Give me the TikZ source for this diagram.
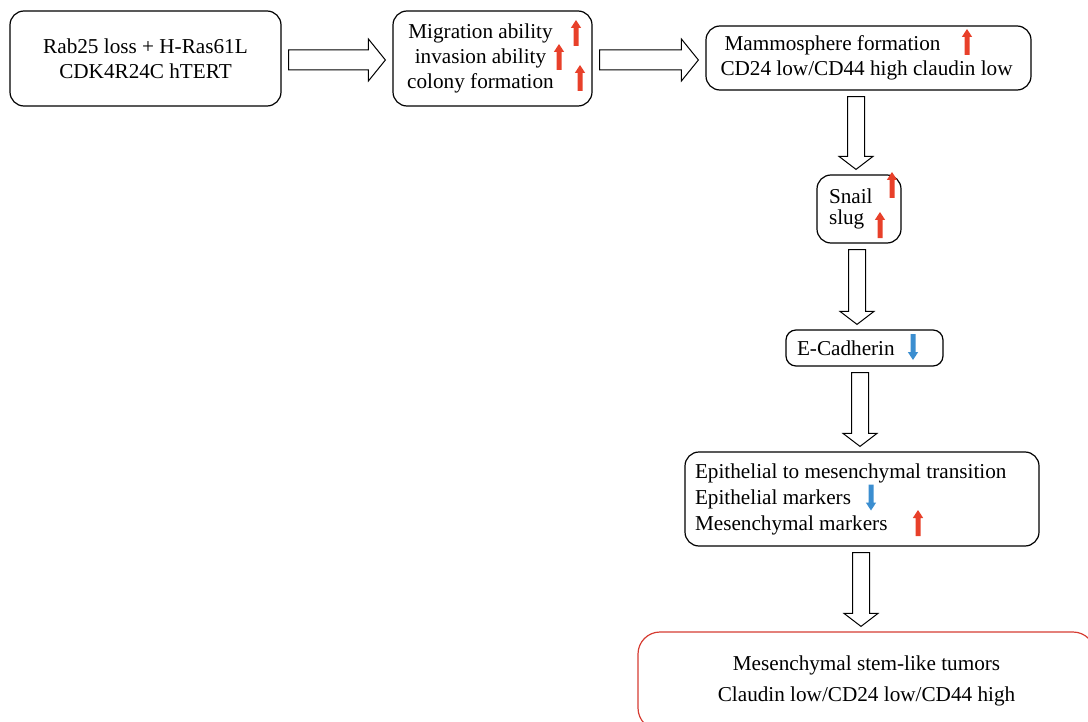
\documentclass[tikz,border=0pt]{standalone}
\usepackage{fontspec}
\setmainfont{Liberation Serif}
\usetikzlibrary{calc}

\definecolor{upred}{RGB}{232,64,42}
\definecolor{downblue}{RGB}{59,142,208}
\definecolor{edgered}{RGB}{214,60,50}

\tikzset{
  box/.style={draw, rounded corners=7pt, line width=0.6pt, inner sep=0pt,
    font=\fontsize{10.6}{12.5}\selectfont},
  blockarrow/.style={draw, line width=0.5pt, fill=white},
  uparr/.pic={\fill[upred] (-1.25pt,-6.5pt) -- (-1.25pt,2.5pt) -- (-2.6pt,2.5pt)
    -- (0,6.5pt) -- (2.6pt,2.5pt) -- (1.25pt,2.5pt) -- (1.25pt,-6.5pt) -- cycle;},
  downarr/.pic={\fill[downblue] (-1.25pt,6.5pt) -- (-1.25pt,-2.5pt) -- (-2.6pt,-2.5pt)
    -- (0,-6.5pt) -- (2.6pt,-2.5pt) -- (1.25pt,-2.5pt) -- (1.25pt,6.5pt) -- cycle;}
}

% hollow block arrows between boxes
\newcommand{\sidearrow}[2]{%
  \draw[blockarrow] let \p1=($(#1.east)+(7,1.5)$), \p2=($(#2.west)+(-7,0)$) in
    (\x1,\y1+5pt) -- (\x2-8.5pt,\y1+5pt) -- (\x2-8.5pt,\y1+10.5pt) -- (\x2,\y1)
    -- (\x2-8.5pt,\y1-10.5pt) -- (\x2-8.5pt,\y1-5pt) -- (\x1,\y1-5pt) -- cycle;}
\newcommand{\dropblock}[3][0]{%
  \draw[blockarrow] let \p1=($(#2.south)+(0,6)$), \p2=($(#3.north)+(#1,-5)$) in
    (\x2-4.25pt,\y1) -- (\x2-4.25pt,\y2+6.5pt) -- (\x2-8.5pt,\y2+6.5pt) -- (\x2,\y2)
    -- (\x2+8.5pt,\y2+6.5pt) -- (\x2+4.25pt,\y2+6.5pt) -- (\x2+4.25pt,\y1) -- cycle;}

\begin{document}
\begin{tikzpicture}[x=0.5pt,y=-0.5pt]

  \useasboundingbox (0,0) rectangle (1088,722);

  \node[box, minimum width=135.5pt, minimum height=47.5pt, align=center] (start) at (145.5,58.5)
    {Rab25 loss + H-Ras61L\\CDK4R24C hTERT};
  \node[box, minimum width=99.5pt, minimum height=47.5pt] (ability) at (492.5,58.5)
    {\begin{tabular}{@{}c@{}}Migration ability\\invasion ability\\colony formation\end{tabular}\hspace*{12pt}};
  \node[box, minimum width=162.5pt, minimum height=32pt, text width=148pt, align=flush left] (sphere) at (868.5,58)
    {\hspace*{2pt}Mammosphere formation\\CD24 low/CD44 high claudin low};
  \node[box, minimum width=42pt, minimum height=34pt, text width=30pt, align=flush left] (snail) at (859,209)
    {Snail\\[-2pt]slug};
  \node[box, rounded corners=5pt, minimum width=78.5pt, minimum height=18pt, text width=67.5pt, align=flush left] (ecad) at (864.5,348)
    {E-Cadherin};
  \node[box, minimum width=177pt, minimum height=47pt, text width=167pt, align=flush left,
    font=\fontsize{10.6}{13}\selectfont] (emt) at (862,499)
    {Epithelial to mesenchymal transition\\Epithelial markers\\Mesenchymal markers};
  \node[box, draw=edgered, rounded corners=11pt, minimum width=228.5pt, minimum height=49pt, align=center,
    font=\fontsize{10.6}{15.5}\selectfont] (tumor) at (866.5,681)
    {Mesenchymal stem-like tumors\\Claudin low/CD24 low/CD44 high};

  \sidearrow{start}{ability}
  \sidearrow{ability}{sphere}
  \dropblock[-3]{sphere}{snail}
  \dropblock[-7.5]{snail}{ecad}
  \dropblock[-2]{ecad}{emt}
  \dropblock[-5.5]{emt}{tumor}

  % up and down markers
  \pic at (576,33) {uparr};
  \pic at (559,57) {uparr};
  \pic at (580,78) {uparr};
  \pic at (967,42) {uparr};
  \pic at (892,185) {uparr};
  \pic at (880,225) {uparr};
  \pic at (913,347) {downarr};
  \pic at (871,497.5) {downarr};
  \pic at (918,523) {uparr};

\end{tikzpicture}
\end{document}
